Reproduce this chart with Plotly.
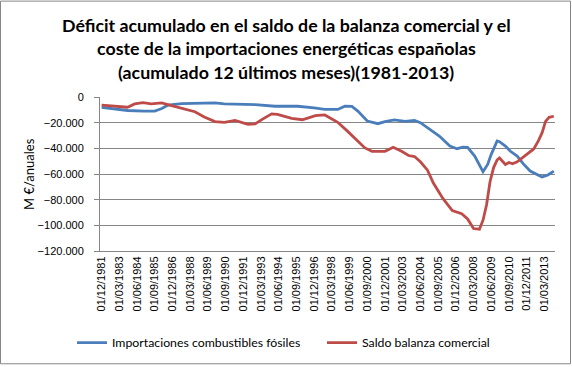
import plotly.graph_objects as go
import pandas as pd

# ---- data (M€ per year, 12-month accumulated) ----
imp_dates = ["1981-12", "1982-11", "1983-10", "1984-12", "1985-09", "1986-03", "1986-08",
             "1987-08", "1988-07", "1989-12", "1990-08", "1992-03", "1992-10", "1994-03",
             "1995-10", "1996-12", "1997-09", "1998-08", "1999-02", "1999-08", "2000-01",
             "2000-09", "2001-06", "2001-12", "2002-08", "2003-05", "2004-01", "2004-06",
             "2004-10", "2005-06", "2005-10", "2006-07", "2007-01", "2007-06", "2007-10",
             "2008-04", "2008-11", "2009-03", "2009-06", "2009-11", "2010-01", "2010-06",
             "2010-10", "2011-04", "2011-09", "2012-03", "2012-09", "2013-01", "2013-06",
             "2013-11"]
imp_values = [-8000, -9200, -10500, -11000, -11000, -9000, -6400,
              -5100, -4700, -4600, -5400, -6000, -5900, -7200,
              -7200, -8500, -9600, -9700, -7200, -7300, -11000,
              -18700, -20800, -19200, -17800, -19000, -18300, -20000,
              -22600, -27500, -30400, -38200, -40300, -39000, -39200,
              -46000, -58200, -52500, -44700, -34300, -34800, -38200,
              -42100, -46000, -51900, -57700, -60800, -62300, -60800,
              -57700]

bal_dates = ["1981-12", "1982-11", "1983-10", "1984-04", "1984-11", "1985-06", "1986-03",
             "1986-08", "1987-08", "1988-07", "1989-03", "1989-12", "1990-08", "1991-05",
             "1992-04", "1992-10", "1993-04", "1993-12", "1994-05", "1995-05", "1996-02",
             "1997-01", "1997-09", "1997-12", "1998-08", "1999-04", "2000-01", "2000-07",
             "2001-01", "2001-12", "2002-07", "2003-02", "2003-08", "2004-01", "2004-06",
             "2004-12", "2005-05", "2006-01", "2006-09", "2007-05", "2007-10", "2008-03",
             "2008-08", "2008-11", "2009-02", "2009-05", "2009-08", "2009-11", "2010-01",
             "2010-06", "2010-09", "2010-12", "2011-04", "2011-07", "2011-12", "2012-06",
             "2012-10", "2013-01", "2013-04", "2013-07", "2013-11"]
bal_values = [-6300, -7200, -8000, -5400, -4400, -5400, -4600,
              -5900, -9000, -11500, -15600, -19200, -19700, -18200,
              -21300, -21000, -17400, -13100, -13500, -16700, -17700,
              -14500, -14000, -15500, -19700, -26400, -34100, -39700,
              -42300, -42300, -39200, -42300, -45600, -46400, -50500,
              -57000, -67000, -79000, -88500, -91000, -95000, -102500,
              -103000, -96000, -84000, -66000, -55000, -49000, -47500,
              -52500, -51000, -52000, -50500, -48500, -44500, -40500,
              -34000, -28000, -19000, -15800, -15000]

series_names = ["Importaciones combustibles fósiles", "Saldo balanza comercial"]
y_ticks = [0, -20000, -40000, -60000, -80000, -100000, -120000]

title_lines = ["Déficit acumulado en el saldo de la balanza comercial y el",
               "coste de la importaciones energéticas españolas",
               "(acumulado 12 últimos meses)(1981-2013)"]

W, H = 572, 367
L, R, T, B = 100, 17, 97, 115
pw = W - L - R
ph = H - T - B

fig = go.Figure()
fig.add_trace(go.Scatter(x=pd.to_datetime(imp_dates), y=imp_values, mode="lines",
                         name=series_names[0], line=dict(color="#4A7EBB", width=2.8)))
fig.add_trace(go.Scatter(x=pd.to_datetime(bal_dates), y=bal_values, mode="lines",
                         name=series_names[1], line=dict(color="#BE4B48", width=2.8)))

fig.update_layout(
    width=W, height=H,
    margin=dict(l=L, r=R, t=T, b=B),
    paper_bgcolor="white", plot_bgcolor="white",
    separators=",.",
    font=dict(family="Liberation Sans, Arial, sans-serif", size=11, color="#000000"),
    showlegend=True,
    legend=dict(orientation="h", x=-0.035, y=-0.585, xanchor="left", yanchor="middle",
                font=dict(family="Lato, Liberation Sans, sans-serif", size=12.3, color="#000"),
                entrywidth=205, entrywidthmode="pixels", itemwidth=30,
                bgcolor="rgba(0,0,0,0)"),
)

# title lines as centered annotations
for i, line in enumerate(title_lines):
    fig.add_annotation(text="<b>" + line + "</b>", xref="paper", yref="paper",
                       x=(W / 2 - L) / pw,
                       y=((H - B) - (24.5 + 23.5 * i)) / ph,
                       showarrow=False, xanchor="center", yanchor="middle",
                       font=dict(family="Lato, sans-serif", size=17.8, color="#000"))

# y axis title
fig.add_annotation(text="M €/anuales", xref="paper", yref="paper",
                   x=(29 - L) / pw, y=0.5, textangle=-90, showarrow=False,
                   xanchor="center", yanchor="middle",
                   font=dict(family="Lato, sans-serif", size=13, color="#000"))

fig.update_xaxes(
    type="date",
    range=["1981-10-20", "2013-12-01"],
    tick0="1981-12-01", dtick="M15", tickformat="%d/%m/%Y",
    tickangle=-90, tickfont=dict(size=11, color="#000"),
    showgrid=False, showline=True, linecolor="#868686", linewidth=1,
    ticks="", zeroline=False,
)
fig.update_yaxes(
    range=[-120000, 0], tickvals=y_ticks, tickformat=",d",
    showgrid=True, gridcolor="#868686", gridwidth=1,
    showline=True, linecolor="#868686", linewidth=1,
    ticks="outside", ticklen=5, tickcolor="#868686",
    tickfont=dict(size=11, color="#000"), ticklabelstandoff=8,
    zeroline=False,
)

# outer chart border
fig.add_shape(type="rect", xref="paper", yref="paper",
              x0=(0.5 - L) / pw, x1=(W - 1.5 - L) / pw,
              y0=(H - B - (H - 1.5)) / ph, y1=(H - B - 0.5) / ph,
              line=dict(color="#868686", width=1), layer="below")

fig.write_html("out.html", config={"displayModeBar": False},
               post_script="document.body.style.margin='0px';")
